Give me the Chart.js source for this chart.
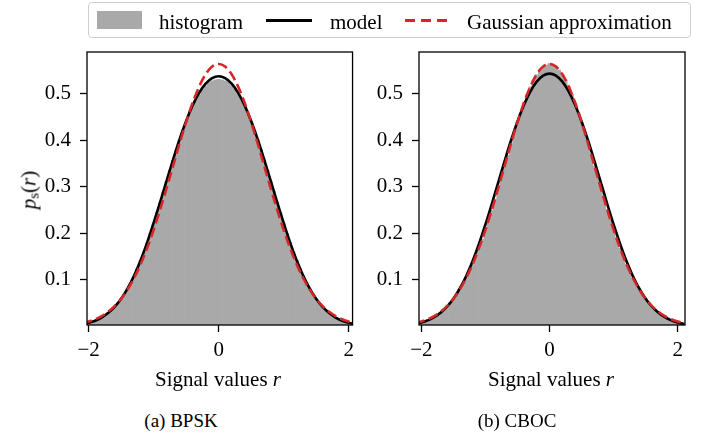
<!DOCTYPE html>
<html>
<head>
<meta charset="utf-8">
<script src="https://cdn.jsdelivr.net/npm/chart.js@4.4.1/dist/chart.umd.min.js"></script>
<style>
  html, body { margin: 0; padding: 0; }
  body { width: 711px; height: 437px; position: relative; background: #fff; overflow: hidden;
         font-family: "Liberation Serif", "Times New Roman", serif; color: #000; }
  canvas { position: absolute; top: 0; }
  #c1 { left: 0; }
  #c2 { left: 332px; }
  .box { position: absolute; left: 88px; top: 2px; width: 601px; height: 34px;
         border: 1px solid #cfcfcf; border-radius: 4px; background: rgba(255,255,255,0.8); }
  .t { position: absolute; font-size: 21px; line-height: 21px; white-space: nowrap; }
  .sw { position: absolute; }
  .c { transform: translateX(-50%); }
  .cap { font-size: 19px; line-height: 19px; }
  #ylab { position: absolute; left: 29px; top: 190px; font-size: 21px; line-height: 21px; white-space: nowrap;
          transform: translate(-50%, -50%) rotate(-90deg); }
  #ylab sub { font-size: 15px; vertical-align: -3px; line-height: 0; }
</style>
</head>
<body>
<canvas id="c1" width="360" height="400"></canvas>
<canvas id="c2" width="360" height="400"></canvas>

<div class="box"></div>
<div class="sw" style="left:97px;top:11px;width:45px;height:18px;background:#a9a9a9"></div>
<div class="t" style="left:159px;top:12px">histogram</div>
<div class="sw" style="left:266px;top:19px;width:46px;height:3px;background:#000"></div>
<div class="t" style="left:330px;top:12px">model</div>
<div class="sw" style="left:405px;top:19px;width:45px;height:3px;background:repeating-linear-gradient(90deg,#d62728 0 10.5px,transparent 10.5px 16px)"></div>
<div class="t" style="left:467px;top:12px">Gaussian approximation</div>

<div id="ylab"><i>p</i><sub>s</sub>(<i>r</i>)</div>
<div class="t c" style="left:218px;top:369px">Signal values <i>r</i></div>
<div class="t c" style="left:551px;top:369px">Signal values <i>r</i></div>
<div class="t c cap" style="left:181px;top:411px">(a) BPSK</div>
<div class="t c cap" style="left:517px;top:411px">(b) CBOC</div>

<script>
// ---------- data ----------
const xTicks = [-2, 0, 2];
const xTickLabels = ['\u22122', '0', '2'];
const yTicks = [0.1, 0.2, 0.3, 0.4, 0.5];
const yTickLabels = ['0.1', '0.2', '0.3', '0.4', '0.5'];

// histogram bin centres (bin width 0.05)
const binCenters = [-2.00,-1.95,-1.90,-1.85,-1.80,-1.75,-1.70,-1.65,-1.60,-1.55,-1.50,-1.45,-1.40,-1.35,-1.30,-1.25,
  -1.20,-1.15,-1.10,-1.05,-1.00,-0.95,-0.90,-0.85,-0.80,-0.75,-0.70,-0.65,-0.60,-0.55,-0.50,-0.45,-0.40,-0.35,
  -0.30,-0.25,-0.20,-0.15,-0.10,-0.05,0.00,0.05,0.10,0.15,0.20,0.25,0.30,0.35,0.40,0.45,0.50,0.55,0.60,0.65,
  0.70,0.75,0.80,0.85,0.90,0.95,1.00,1.05,1.10,1.15,1.20,1.25,1.30,1.35,1.40,1.45,1.50,1.55,1.60,1.65,1.70,
  1.75,1.80,1.85,1.90,1.95,2.00,2.05,2.10];

const histBPSK = [0.008,0.010,0.012,0.015,0.019,0.024,0.029,0.034,0.042,0.050,0.059,0.069,0.081,0.095,0.108,0.125,
  0.141,0.160,0.179,0.200,0.221,0.244,0.266,0.289,0.312,0.335,0.357,0.379,0.400,0.421,0.439,0.456,0.472,0.486,
  0.498,0.509,0.517,0.524,0.528,0.530,0.531,0.530,0.528,0.525,0.518,0.510,0.499,0.487,0.473,0.457,0.440,0.421,
  0.401,0.380,0.358,0.336,0.312,0.290,0.267,0.244,0.222,0.200,0.180,0.160,0.142,0.125,0.109,0.094,0.081,0.070,
  0.059,0.050,0.042,0.035,0.029,0.023,0.019,0.015,0.012,0.010,0.008,0.006,0.005];

const histCBOC = [0.010,0.013,0.015,0.018,0.022,0.026,0.031,0.037,0.044,0.051,0.059,0.068,0.079,0.091,0.104,0.118,
  0.133,0.150,0.168,0.187,0.207,0.228,0.250,0.273,0.297,0.320,0.344,0.368,0.392,0.416,0.438,0.459,0.480,0.498,
  0.515,0.529,0.541,0.551,0.558,0.562,0.565,0.562,0.558,0.551,0.542,0.530,0.515,0.499,0.480,0.460,0.439,0.416,
  0.393,0.369,0.345,0.321,0.297,0.274,0.251,0.229,0.207,0.187,0.168,0.150,0.133,0.118,0.104,0.091,0.079,0.069,
  0.059,0.051,0.043,0.037,0.031,0.026,0.022,0.018,0.015,0.012,0.010,0.008,0.007];

// curve sample positions
const curveX = [-2.1,-2.0,-1.9,-1.8,-1.7,-1.6,-1.5,-1.4,-1.3,-1.2,-1.1,-1.0,-0.9,-0.8,-0.7,-0.6,-0.5,-0.4,-0.3,-0.2,-0.1,
  0.0,0.1,0.2,0.3,0.4,0.5,0.6,0.7,0.8,0.9,1.0,1.1,1.2,1.3,1.4,1.5,1.6,1.7,1.8,1.9,2.0,2.1];

const modelBPSK = [0.0047,0.0078,0.0123,0.0191,0.0287,0.0418,0.0593,0.0816,0.1093,0.1423,0.1802,0.2224,0.2673,0.3136,
  0.3592,0.4025,0.4416,0.4752,0.5022,0.5218,0.5337,0.5377,0.5337,0.5218,0.5022,0.4752,0.4416,0.4025,0.3592,0.3136,
  0.2673,0.2224,0.1802,0.1423,0.1093,0.0816,0.0593,0.0418,0.0287,0.0191,0.0123,0.0078,0.0047];

const modelCBOC = [0.0051,0.0083,0.0130,0.0198,0.0294,0.0424,0.0596,0.0815,0.1085,0.1407,0.1779,0.2192,0.2637,0.3099,
  0.3559,0.4002,0.4407,0.4761,0.5050,0.5262,0.5392,0.5436,0.5392,0.5262,0.5050,0.4761,0.4407,0.4002,0.3559,0.3099,
  0.2637,0.2192,0.1779,0.1407,0.1085,0.0815,0.0596,0.0424,0.0294,0.0198,0.0130,0.0083,0.0051];

const gaussApprox = [0.0069,0.0103,0.0153,0.0221,0.0314,0.0436,0.0595,0.0795,0.1041,0.1337,0.1683,0.2076,0.2510,0.2975,
  0.3456,0.3936,0.4394,0.4808,0.5156,0.5421,0.5586,0.5642,0.5586,0.5421,0.5156,0.4808,0.4394,0.3936,0.3456,0.2975,
  0.2510,0.2076,0.1683,0.1337,0.1041,0.0795,0.0595,0.0436,0.0314,0.0221,0.0153,0.0103,0.0069];

const panels = [
  { id: 'c1', hist: histBPSK, model: modelBPSK, xmin: -2.025, xmax: 2.06 },
  { id: 'c2', hist: histCBOC, model: modelCBOC, xmin: -2.037, xmax: 2.114 }
];

// ---------- drawing ----------
const FONT = '"Liberation Serif", "Times New Roman", serif';
const pts = (xs, ys) => xs.map((x, i) => ({ x: x, y: ys[i] }));

const framePlugin = {
  id: 'frame',
  afterDraw(chart) {
    const a = chart.chartArea, ctx = chart.ctx;
    ctx.save();
    ctx.strokeStyle = '#000';
    ctx.lineWidth = 1.3;
    ctx.strokeRect(a.left, a.top, a.right - a.left, a.bottom - a.top);
    ctx.restore();
  }
};

panels.forEach(p => {
  new Chart(document.getElementById(p.id), {
    type: 'line',
    data: {
      datasets: [
        { type: 'bar', label: 'histogram', data: pts(binCenters, p.hist), backgroundColor: '#a9a9a9',
          borderWidth: 0, barPercentage: 1, categoryPercentage: 1, order: 3 },
        { label: 'model', data: pts(curveX, p.model), borderColor: '#000', borderWidth: 2.6,
          pointRadius: 0, cubicInterpolationMode: 'monotone', fill: false, clip: 0, order: 2 },
        { label: 'Gaussian approximation', data: pts(curveX, gaussApprox), borderColor: '#d62728', borderWidth: 2.6,
          borderDash: [10, 4.5], pointRadius: 0, cubicInterpolationMode: 'monotone', fill: false, clip: 0, order: 1 }
      ]
    },
    options: {
      responsive: false,
      animation: false,
      devicePixelRatio: 1,
      layout: { padding: { top: 52, right: 7, left: 0, bottom: 0 } },
      plugins: { legend: { display: false }, tooltip: { enabled: false }, title: { display: false } },
      scales: {
        x: {
          type: 'linear', min: p.xmin, max: p.xmax, offset: false,
          afterBuildTicks: s => { s.ticks = xTicks.map(v => ({ value: v })); },
          afterFit: s => { s.height = 75; },
          ticks: { autoSkip: false, maxRotation: 0, padding: 6, color: '#000',
                   font: { family: FONT, size: 21 },
                   callback: (v, i) => xTickLabels[i] },
          grid: { offset: false, drawOnChartArea: false, drawTicks: true, tickLength: 7, tickWidth: 1.3, tickColor: '#000' },
          border: { display: false }
        },
        y: {
          type: 'linear', min: 0.003, max: 0.59,
          afterBuildTicks: s => { s.ticks = yTicks.map(v => ({ value: v })); },
          afterFit: s => { s.width = 87; },
          ticks: { autoSkip: false, padding: 9, color: '#000',
                   font: { family: FONT, size: 21 },
                   callback: (v, i) => yTickLabels[i] },
          grid: { offset: false, drawOnChartArea: false, drawTicks: true, tickLength: 7, tickWidth: 1.3, tickColor: '#000' },
          border: { display: false }
        }
      }
    },
    plugins: [framePlugin]
  });
});
</script>
</body>
</html>
